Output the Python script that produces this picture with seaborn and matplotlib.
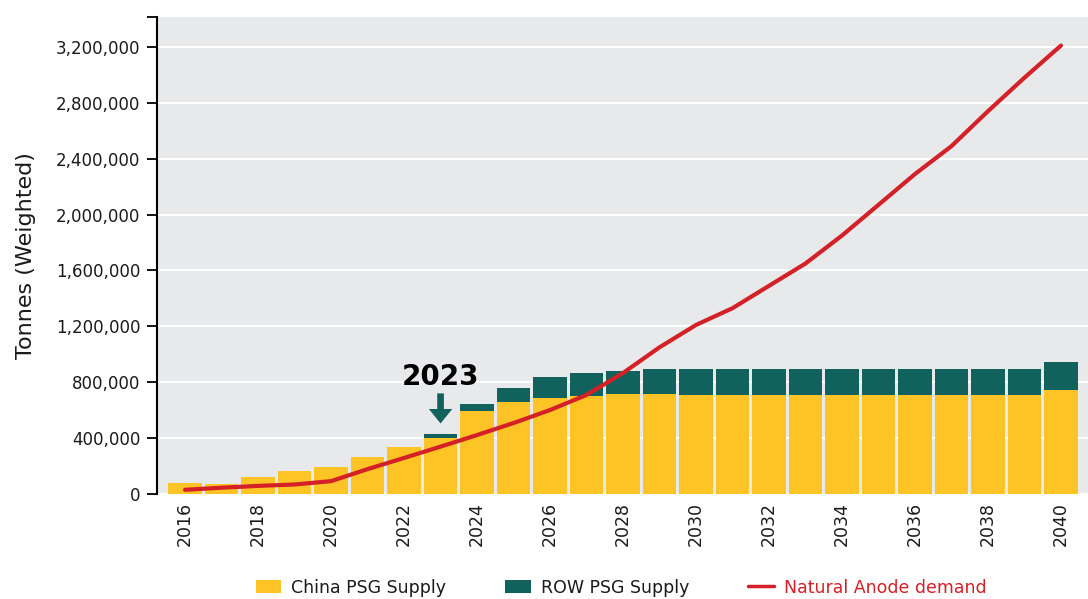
import matplotlib
matplotlib.use("Agg")
import matplotlib.pyplot as plt
import seaborn as sns
import pandas as pd
from matplotlib.patches import Patch
from matplotlib.lines import Line2D
from matplotlib.ticker import FuncFormatter

years = list(range(2016, 2041))
china_supply = [80000, 72000, 124000, 165000, 193000, 265000, 336000, 400000, 596000,
                659000, 687000, 701000, 716000, 716000,
                710000, 710000, 710000, 710000, 710000, 710000, 710000, 710000, 710000, 710000,
                745000]
row_supply = [0, 0, 0, 0, 0, 0, 0, 28000, 48000,
              100000, 151000, 165000, 164000, 178000,
              184000, 184000, 184000, 184000, 184000, 184000, 184000, 184000, 184000, 184000,
              200000]
anode_demand = [30000, 45000, 58000, 68000, 92000, 178000, 258000, 339000, 422000,
                508000, 601000, 709000, 866000, 1050000, 1210000, 1330000, 1490000,
                1650000, 1850000, 2070000, 2290000, 2490000, 2740000, 2980000, 3210000]
y_ticks = [0, 400000, 800000, 1200000, 1600000, 2000000, 2400000, 2800000, 3200000]
legend_labels = ["China PSG Supply", "ROW PSG Supply", "Natural Anode demand"]
y_label = "Tonnes (Weighted)"
highlight_year = 2023

YELLOW = "#FEC325"
TEAL = "#11625C"
RED = "#D42027"
BG = "#E8E9EB"

df = pd.DataFrame({"year": years, "china": china_supply, "row": row_supply,
                   "demand": anode_demand})
df["total"] = df["china"] + df["row"]

sns.set_theme(style="white")
plt.rcParams["font.family"] = ["DejaVu Sans"]

fig = plt.figure(figsize=(10.88, 5.99), dpi=100)
ax = fig.add_axes([0.1443, 0.1753, 0.8557, 0.7963])
ax.set_facecolor(BG)

sns.barplot(data=df, x="year", y="total", native_scale=True, color=TEAL,
            width=0.92, saturation=1, ax=ax, zorder=2, edgecolor="none", linewidth=0)
sns.barplot(data=df, x="year", y="china", native_scale=True, color=YELLOW,
            width=0.92, saturation=1, ax=ax, zorder=3, edgecolor="none", linewidth=0)
sns.lineplot(data=df, x="year", y="demand", color=RED, linewidth=3, ax=ax, zorder=4)

ax.set_xlim(years[0] - 0.77, years[-1] + 0.74)
ax.set_ylim(0, 3414000)
ax.set_yticks(y_ticks)
ax.set_yticks([3414000], minor=True)
ax.yaxis.set_major_formatter(FuncFormatter(lambda v, p: f"{int(v):,}"))
ax.grid(axis="y", color="white", linewidth=1.5, zorder=0)
ax.grid(axis="x", visible=False)
ax.set_axisbelow(True)

for s in ["top", "right", "bottom"]:
    ax.spines[s].set_visible(False)
ax.spines["left"].set_color("black")
ax.spines["left"].set_linewidth(1.5)
ax.tick_params(axis="y", which="both", direction="out", length=7, width=1.3,
               color="black", left=True, pad=5, labelsize=12, labelcolor="#1a1a1a")
ax.tick_params(axis="x", length=0, pad=6, labelsize=12.5, labelcolor="#1a1a1a")
ax.set_xticks(years[::2])
ax.set_xticklabels([str(y) for y in years[::2]], rotation=90)

ax.set_xlabel("")
ax.set_ylabel(y_label, fontsize=16, labelpad=14, color="#1a1a1a")

# highlight annotation
ax.text(highlight_year, 835000, str(highlight_year), ha="center", va="center",
        fontsize=20, fontweight="bold", color="black", zorder=6)
ax.annotate("", xy=(highlight_year, 485000), xytext=(highlight_year, 740000),
            arrowprops=dict(arrowstyle="simple,head_length=0.65,head_width=1.05,tail_width=0.3",
                            mutation_scale=16, color=TEAL, lw=0), zorder=6)

handles = [Patch(facecolor=YELLOW, edgecolor="none"),
           Patch(facecolor=TEAL, edgecolor="none"),
           Line2D([0], [0], color=RED, linewidth=2.5)]
leg = fig.legend(handles, legend_labels, loc="lower center", bbox_to_anchor=(0.571, -0.022),
                 ncol=3, frameon=False, handlelength=1.45, handleheight=0.7,
                 columnspacing=3.4, handletextpad=0.6,
                 prop={"size": 12.5})
for t in leg.get_texts():
    t.set_color("#1a1a1a")
leg.get_texts()[2].set_color(RED)

fig.savefig("out.png", dpi=100)
